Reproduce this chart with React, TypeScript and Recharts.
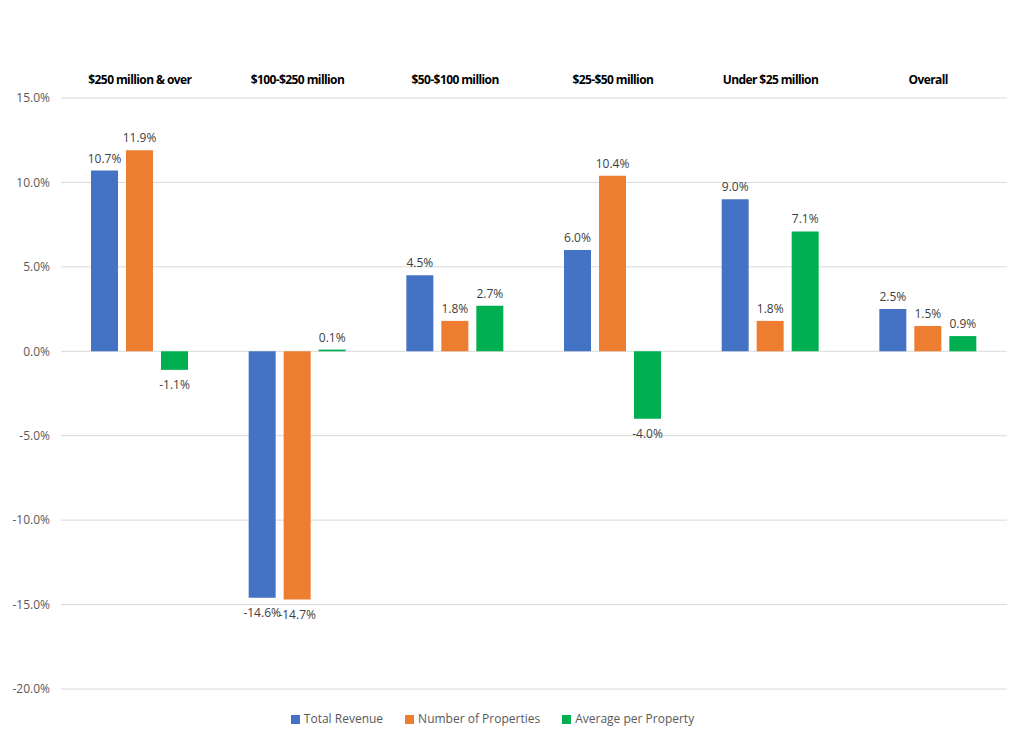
import { BarChart, Bar, XAxis, YAxis, CartesianGrid, Legend, LabelList } from "recharts";

const categories = [
  "$250 million & over",
  "$100-$250 million",
  "$50-$100 million",
  "$25-$50 million",
  "Under $25 million",
  "Overall",
];
const totalRevenue = [10.7, -14.6, 4.5, 6.0, 9.0, 2.5];
const numberOfProperties = [11.9, -14.7, 1.8, 10.4, 1.8, 1.5];
const averagePerProperty = [-1.1, 0.1, 2.7, -4.0, 7.1, 0.9];
const yTicks = [-20, -15, -10, -5, 0, 5, 10, 15];
const seriesNames = ["Total Revenue", "Number of Properties", "Average per Property"];

const data = categories.map((name, i) => ({
  name,
  revenue: totalRevenue[i],
  properties: numberOfProperties[i],
  average: averagePerProperty[i],
}));

const font = "'Open Sans', 'Liberation Sans', sans-serif";
const pct = (v: number) => `${v.toFixed(1)}%`;

// label above positive bars, below negative ones
function ValueLabel(props: any) {
  const { x, y, width, height, value } = props;
  const top = Math.min(y, y + height);
  const bottom = Math.max(y, y + height);
  const ty = value >= 0 ? top - 8 : bottom + 19;
  return (
    <text x={x + width / 2} y={ty} textAnchor="middle" fontSize={12} fill="#404040" fontFamily={font}>
      {pct(value)}
    </text>
  );
}

export default function App() {
  return (
    <div style={{ margin: -8, width: 1024, height: 742, background: "#fff" }}>
      <BarChart
        width={1024}
        height={742}
        data={data}
        margin={{ top: 60, right: 17, bottom: 36, left: 0 }}
        barGap={8}
        barSize={27}
      >
        <CartesianGrid vertical={false} stroke="#d9d9d9" />
        <XAxis
          dataKey="name"
          orientation="top"
          height={38}
          axisLine={false}
          tickLine={false}
          tickSize={0}
          tickMargin={14}
          interval={0}
          tick={{ fontSize: 12, fontWeight: 700, fill: "#000", fontFamily: font, letterSpacing: -0.6 }}
        />
        <YAxis
          domain={[-20, 15]}
          ticks={yTicks}
          width={61}
          axisLine={false}
          tickLine={false}
          tickSize={0}
          tickMargin={11}
          tickFormatter={pct}
          tick={{ fontSize: 12, fill: "#595959", fontFamily: font }}
        />
        <Legend
          iconType="square"
          iconSize={9}
          itemSorter={(item: any) => seriesNames.indexOf(item.value)}
          wrapperStyle={{ fontSize: 12, fontFamily: font, color: "#595959", bottom: 15 }}
          formatter={(v) => <span style={{ color: "#595959", marginRight: 12 }}>{v}</span>}
        />
        <Bar dataKey="revenue" name={seriesNames[0]} fill="#4472C4" isAnimationActive={false}>
          <LabelList dataKey="revenue" content={<ValueLabel />} />
        </Bar>
        <Bar dataKey="properties" name={seriesNames[1]} fill="#ED7D31" isAnimationActive={false}>
          <LabelList dataKey="properties" content={<ValueLabel />} />
        </Bar>
        <Bar dataKey="average" name={seriesNames[2]} fill="#00B050" isAnimationActive={false}>
          <LabelList dataKey="average" content={<ValueLabel />} />
        </Bar>
      </BarChart>
    </div>
  );
}
